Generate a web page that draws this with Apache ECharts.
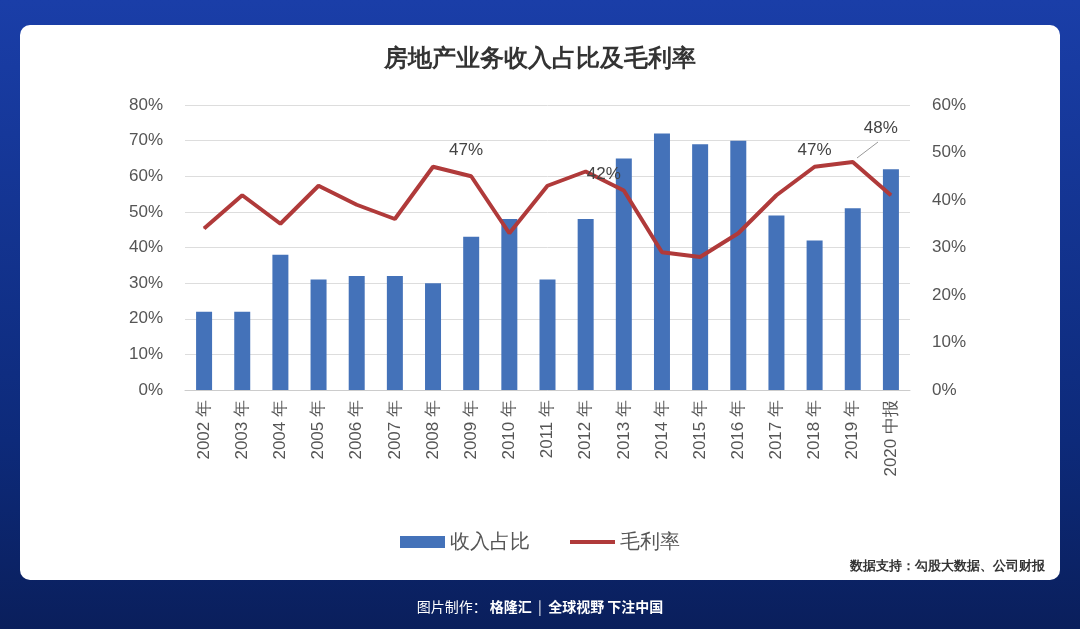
<!DOCTYPE html>
<html><head><meta charset="utf-8">
<script src="https://cdn.jsdelivr.net/npm/echarts@6/dist/echarts.min.js"></script>
<style>
body{margin:0;width:1080px;height:629px;background:linear-gradient(180deg,#1a3ea8,#0d2a7a 70%,#0a1f5c);overflow:hidden;font-family:"Noto Sans CJK SC";}
#card{position:absolute;left:20px;top:25px;width:1040px;height:555px;background:#fff;border-radius:10px;}
#c{position:absolute;left:0;top:0;width:1080px;height:629px;}
#foot{position:absolute;top:596px;width:1080px;text-align:center;color:#fff;font-size:14px;}
</style></head><body>
<div id="card"></div>
<div id="c"></div>
<div id="foot">图片制作： <b>格隆汇</b> &nbsp;|&nbsp; <b>全球视野 下注中国</b></div>
<script>
const categories=["2002 年","2003 年","2004 年","2005 年","2006 年","2007 年","2008 年","2009 年","2010 年","2011 年","2012 年","2013 年","2014 年","2015 年","2016 年","2017 年","2018 年","2019 年","2020 中报"];
const incomeShare=[22,22,38,31,32,32,30,43,48,31,48,65,72,69,70,49,42,51,62];
const grossMargin=[34,41,35,43,39,36,47,45,33,43,46,42,29,28,33,41,47,48,41];
const labelled={6:[33,-2],11:[-20,-2],16:[0,-2],17:[28,-20]};
const chart=echarts.init(document.getElementById('c'));
chart.setOption({
 backgroundColor:'transparent',
 title:{text:'房地产业务收入占比及毛利率',left:'center',top:42,textStyle:{fontSize:24,color:'#333',fontWeight:'bold'}},
 grid:{left:185,right:170,top:105,bottom:239},
 legend:{bottom:72,left:'center',itemGap:40,textStyle:{fontSize:20,color:'#555'},itemWidth:45,itemHeight:12,
  data:[{name:'收入占比',icon:'rect'},{name:'毛利率',icon:'path://M0,4h45v4h-45z'}]},
 xAxis:{type:'category',data:categories,axisTick:{show:false},axisLine:{lineStyle:{color:'#ccc'}},
  axisLabel:{rotate:90,fontSize:17,color:'#555',interval:0,margin:10}},
 yAxis:[
  {type:'value',min:0,max:80,interval:10,axisLabel:{formatter:'{value}%',fontSize:17,color:'#555',margin:22},splitLine:{lineStyle:{color:'#ddd'}}},
  {type:'value',min:0,max:60,interval:10,axisLabel:{formatter:'{value}%',fontSize:17,color:'#555',margin:22},splitLine:{show:false}}
 ],
 graphic:[
  {type:'text',right:35,bottom:56,style:{text:'数据支持：勾股大数据、公司财报',fontSize:13,fill:'#333',fontWeight:'bold'}},
  {type:'line',shape:{x1:857,y1:158,x2:878,y2:142},style:{stroke:'#999',lineWidth:1}}
 ],
 series:[
  {name:'收入占比',type:'bar',data:incomeShare,barWidth:16,itemStyle:{color:'#4472b9'}},
  {name:'毛利率',type:'line',yAxisIndex:1,symbol:'circle',symbolSize:1,lineStyle:{width:4,color:'#b03a3a'},itemStyle:{color:'#b03a3a'},
   data:grossMargin.map((v,i)=>labelled[i]?{value:v,label:{show:true,position:'top',offset:labelled[i],formatter:'{c}%',fontSize:17,color:'#444'}}:v)}
 ]
});
</script></body></html>
